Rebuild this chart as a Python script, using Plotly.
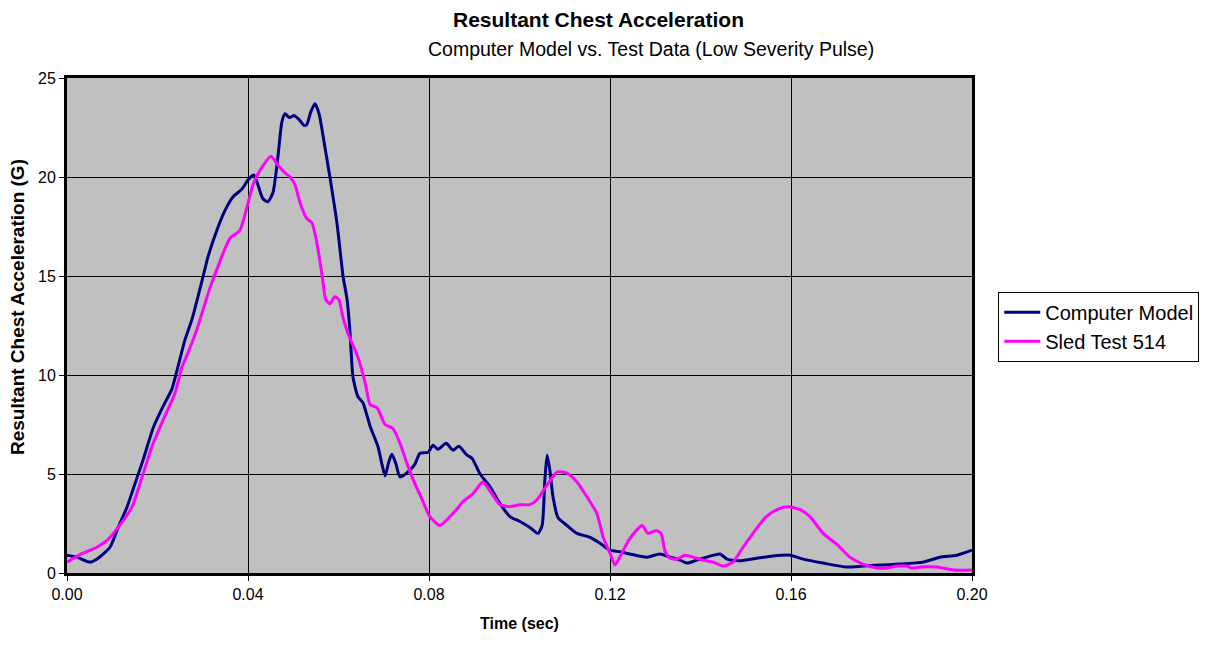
import plotly.graph_objects as go

model_t = [0.0, 0.0022, 0.0051, 0.0069, 0.0095, 0.0113, 0.0133, 0.0150, 0.0168, 0.0190, 0.0212, 0.0232,
           0.0245, 0.0261, 0.0276, 0.0301, 0.0312, 0.0331, 0.0349, 0.0367, 0.0387, 0.0400, 0.0413, 0.0422,
           0.0433, 0.0444, 0.0455, 0.0466, 0.0475, 0.0482, 0.0491, 0.0502, 0.0513, 0.0524, 0.0530, 0.0539,
           0.0548, 0.0557, 0.0570, 0.0581, 0.0597, 0.0610, 0.0619, 0.0625, 0.0632, 0.0643, 0.0654, 0.0670,
           0.0687, 0.0696, 0.0703, 0.0711, 0.0718, 0.0727, 0.0736, 0.0758, 0.0769, 0.0780, 0.0798, 0.0809,
           0.0820, 0.0838, 0.0853, 0.0866, 0.0884, 0.0895, 0.0913, 0.0935, 0.0957, 0.0979, 0.1001, 0.1023,
           0.1041, 0.1050, 0.1056, 0.1061, 0.1067, 0.1074, 0.1085, 0.1105, 0.1127, 0.1156, 0.1178, 0.1200,
           0.1223, 0.1244, 0.1282, 0.1310, 0.1333, 0.1355, 0.1370, 0.1392, 0.1414, 0.1443, 0.1459, 0.1487,
           0.1525, 0.1560, 0.1598, 0.1627, 0.1671, 0.1724, 0.1759, 0.1797, 0.1841, 0.1892, 0.1929, 0.1967,
           0.2000]
model_g = [0.9, 0.8, 0.55, 0.75, 1.3, 2.3, 3.35, 4.5, 5.7, 7.3, 8.4, 9.3,
           10.4, 11.8, 12.8, 15.0, 16.0, 17.3, 18.3, 19.0, 19.4, 19.85, 20.1, 19.6,
           18.9, 18.75, 19.2, 21.0, 22.8, 23.2, 23.0, 23.1, 22.9, 22.6, 22.65, 23.3,
           23.7, 23.2, 21.5, 20.0, 17.6, 15.0, 13.8, 12.3, 9.9, 8.9, 8.6, 7.4,
           6.4, 5.5, 4.9, 5.6, 6.0, 5.5, 4.85, 5.2, 5.5, 6.05, 6.1, 6.45,
           6.25, 6.55, 6.2, 6.4, 5.95, 5.8, 5.0, 4.35, 3.5, 2.85, 2.6, 2.3,
           2.0, 2.4, 4.7, 5.95, 5.2, 3.85, 2.8, 2.4, 2.0, 1.8, 1.5, 1.15,
           1.07, 0.96, 0.8, 0.96, 0.8, 0.65, 0.5, 0.65, 0.8, 0.96, 0.7, 0.62,
           0.75, 0.86, 0.9, 0.7, 0.5, 0.3, 0.35, 0.4, 0.45, 0.55, 0.8, 0.9,
           1.15]

sled_t = [0.0, 0.0035, 0.0066, 0.0091, 0.0113, 0.0144, 0.0166, 0.0188, 0.0210, 0.0239, 0.0254, 0.0267,
          0.0287, 0.0316, 0.0334, 0.0360, 0.0382, 0.0398, 0.0411, 0.0427, 0.0451, 0.0466, 0.0480, 0.0493,
          0.0504, 0.0515, 0.0530, 0.0541, 0.0552, 0.0564, 0.0572, 0.0581, 0.0592, 0.0601, 0.0610, 0.0621,
          0.0643, 0.0659, 0.0670, 0.0685, 0.0703, 0.0720, 0.0736, 0.0751, 0.0769, 0.0785, 0.0802, 0.0824,
          0.0840, 0.0857, 0.0875, 0.0897, 0.0919, 0.0939, 0.0957, 0.0979, 0.1001, 0.1023, 0.1039, 0.1061,
          0.1083, 0.1105, 0.1127, 0.1149, 0.1171, 0.1185, 0.1200, 0.1211, 0.1227, 0.1244, 0.1271, 0.1284,
          0.1302, 0.1313, 0.1322, 0.1333, 0.1348, 0.1366, 0.1383, 0.1406, 0.1428, 0.1450, 0.1472, 0.1494,
          0.1516, 0.1543, 0.1569, 0.1593, 0.1620, 0.1642, 0.1671, 0.1704, 0.1730, 0.1759, 0.1790, 0.1812,
          0.1834, 0.1856, 0.1867, 0.1885, 0.1923, 0.1958, 0.2000]
sled_g = [0.55, 1.0, 1.3, 1.7, 2.3, 3.35, 4.85, 6.4, 7.6, 9.1, 10.4, 11.1,
          12.3, 14.4, 15.5, 16.9, 17.3, 18.5, 19.6, 20.35, 21.05, 20.6, 20.25, 20.0,
          19.6, 18.7, 17.9, 17.7, 16.7, 15.0, 13.8, 13.6, 13.95, 13.8, 12.9, 12.1,
          10.9, 9.6, 8.5, 8.35, 7.5, 7.3, 6.55, 5.55, 4.5, 3.7, 2.85, 2.4,
          2.7, 3.1, 3.6, 4.0, 4.6, 4.0, 3.45, 3.35, 3.45, 3.45, 3.7, 4.45,
          5.1, 5.05, 4.6, 3.85, 3.0, 1.8, 1.0, 0.4, 1.05, 1.75, 2.4, 2.0,
          2.15, 2.0, 1.07, 0.75, 0.7, 0.9, 0.8, 0.65, 0.55, 0.35, 0.55, 1.3,
          2.0, 2.8, 3.2, 3.35, 3.2, 2.85, 2.0, 1.4, 0.8, 0.45, 0.25, 0.25,
          0.35, 0.35, 0.25, 0.3, 0.3, 0.15, 0.15]

x_ticks = [0.00, 0.04, 0.08, 0.12, 0.16, 0.20]
x_tick_labels = ["0.00", "0.04", "0.08", "0.12", "0.16", "0.20"]
y_ticks = [0, 5, 10, 15, 20, 25]

FONT = "Liberation Sans, Arial, sans-serif"

fig = go.Figure()
fig.add_trace(go.Scatter(x=model_t, y=model_g, mode="lines", name="Computer Model",
                         line=dict(color="#000080", width=3, shape="spline", smoothing=0.6)))
fig.add_trace(go.Scatter(x=sled_t, y=sled_g, mode="lines", name="Sled Test 514",
                         line=dict(color="#FF00FF", width=3, shape="spline", smoothing=0.6)))

fig.update_layout(
    width=1214, height=645,
    margin=dict(l=59, r=250, t=70, b=80),
    paper_bgcolor="white",
    plot_bgcolor="#C0C0C0",
    font=dict(family=FONT, size=16, color="black"),
    showlegend=True,
    legend=dict(x=1.029, y=0.568, xanchor="left", yanchor="top",
                bgcolor="white", bordercolor="black", borderwidth=1,
                font=dict(family=FONT, size=20, color="black"),
                tracegroupgap=0, itemwidth=36),
    xaxis=dict(range=[0, 0.2], tickvals=x_ticks, ticktext=x_tick_labels,
               showgrid=True, gridcolor="black", gridwidth=1,
               showline=True, linecolor="black", linewidth=3, mirror=True,
               ticks="outside", ticklen=5, tickcolor="black",
               tickfont=dict(size=16), zeroline=False,
               title=dict(text="<b>Time (sec)</b>", font=dict(size=16), standoff=16)),
    yaxis=dict(range=[0, 25], tickvals=y_ticks,
               showgrid=True, gridcolor="black", gridwidth=1,
               showline=True, linecolor="black", linewidth=3, mirror=True,
               ticks="outside", ticklen=5, tickcolor="black",
               tickfont=dict(size=16), zeroline=False),
    annotations=[
        dict(text="<b>Resultant Chest Acceleration</b>", xref="paper", yref="paper",
             x=0.587, y=(573 - 20) / 495, xanchor="center", yanchor="middle", showarrow=False,
             font=dict(family=FONT, size=21, color="black")),
        dict(text="Computer Model vs. Test Data (Low Severity Pulse)", xref="paper", yref="paper",
             x=0.645, y=(573 - 49) / 495, xanchor="center", yanchor="middle", showarrow=False,
             font=dict(family=FONT, size=19.5, color="black")),
        dict(text="<b>Resultant Chest Acceleration (G)</b>", xref="paper", yref="paper",
             x=(17 - 67) / 905, y=(573 - 307) / 495, xanchor="center", yanchor="middle",
             textangle=-90, showarrow=False,
             font=dict(family=FONT, size=19, color="black")),
    ],
)

fig.write_html("out.html")
